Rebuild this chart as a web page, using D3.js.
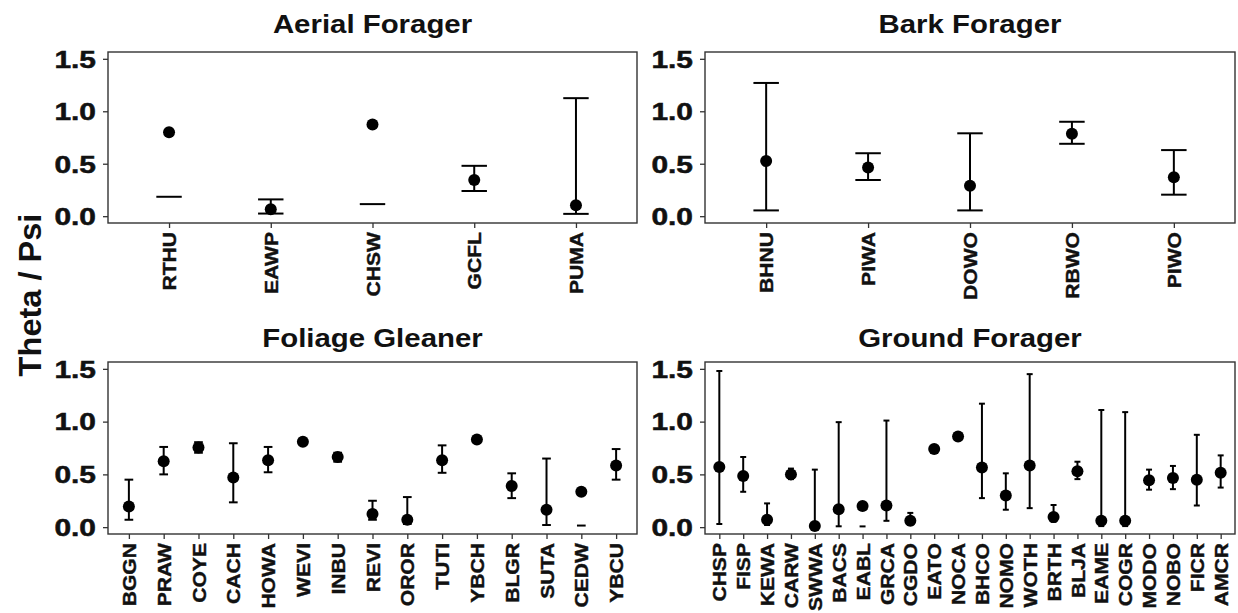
<!DOCTYPE html>
<html>
<head>
<meta charset="utf-8">
<script src="https://cdn.jsdelivr.net/npm/d3@7"></script>
<style>
body { margin: 0; background: #fff; }
svg { display: block; }
text { font-family: 'Liberation Sans', Arial, sans-serif; font-weight: bold; }
</style>
</head>
<body>
<svg id="chart" width="1238" height="613"></svg>
<script>
// ---------------- data ----------------
const aerialSp = ['RTHU', 'EAWP', 'CHSW', 'GCFL', 'PUMA']
const aerialEst = [0.80, 0.065, 0.875, 0.345, 0.105]
const aerialLo = [0.185, 0.025, 0.115, 0.24, 0.022]
const aerialHi = [null, 0.16, null, 0.48, 1.125]

const barkSp = ['BHNU', 'PIWA', 'DOWO', 'RBWO', 'PIWO']
const barkEst = [0.525, 0.465, 0.29, 0.785, 0.37]
const barkLo = [0.055, 0.345, 0.055, 0.69, 0.205]
const barkHi = [1.27, 0.60, 0.79, 0.90, 0.63]

const foliageSp = ['BGGN', 'PRAW', 'COYE', 'CACH', 'HOWA', 'WEVI', 'INBU', 'REVI', 'OROR', 'TUTI', 'YBCH', 'BLGR', 'SUTA', 'CEDW', 'YBCU']
const foliageEst = [0.195, 0.625, 0.755, 0.47, 0.635, 0.81, 0.665, 0.125, 0.07, 0.635, 0.83, 0.39, 0.165, 0.335, 0.585]
const foliageLo = [0.07, 0.50, 0.705, 0.235, 0.52, null, 0.62, 0.07, 0.03, 0.515, null, 0.275, 0.02, 0.015, 0.45]
const foliageHi = [0.45, 0.76, 0.805, 0.795, 0.76, null, 0.705, 0.25, 0.285, 0.775, null, 0.51, 0.65, null, 0.74]

const groundSp = ['CHSP', 'FISP', 'KEWA', 'CARW', 'SWWA', 'BACS', 'EABL', 'GRCA', 'CGDO', 'EATO', 'NOCA', 'BHCO', 'NOMO', 'WOTH', 'BRTH', 'BLJA', 'EAME', 'COGR', 'MODO', 'NOBO', 'FICR', 'AMCR']
const groundEst = [0.57, 0.485, 0.07, 0.50, 0.01, 0.17, 0.20, 0.205, 0.06, 0.74, 0.86, 0.565, 0.30, 0.585, 0.095, 0.53, 0.06, 0.06, 0.445, 0.465, 0.45, 0.515]
const groundLo = [0.03, 0.335, 0.02, 0.455, 0.0, 0.008, 0.007, 0.06, 0.02, null, null, 0.275, 0.165, 0.18, 0.05, 0.455, 0.01, 0.01, 0.355, 0.36, 0.205, 0.375]
const groundHi = [1.48, 0.665, 0.225, 0.555, 0.545, 0.995, null, 1.01, 0.135, null, null, 1.17, 0.51, 1.45, 0.21, 0.62, 1.11, 1.09, 0.545, 0.58, 0.875, 0.68]

const yTicks = [0, 0.5, 1.0, 1.5]
const yLabel = 'Theta / Psi'

// ---------------- layout ----------------
const svg = d3.select('#chart')

const cols = [[108, 637], [705, 1235]]
const rows = [[52, 223], [362, 534]]
const titleGap = [19, 15]

const panels = [
	{title: 'Aerial Forager', sp: aerialSp, est: aerialEst, lo: aerialLo, hi: aerialHi, c: 0, r: 0},
	{title: 'Bark Forager', sp: barkSp, est: barkEst, lo: barkLo, hi: barkHi, c: 1, r: 0},
	{title: 'Foliage Gleaner', sp: foliageSp, est: foliageEst, lo: foliageLo, hi: foliageHi, c: 0, r: 1},
	{title: 'Ground Forager', sp: groundSp, est: groundEst, lo: groundLo, hi: groundHi, c: 1, r: 1}
]

// stretch a text to look like the wide glyphs of the original
function widen(sel, k) {
	sel.each(function() {
		let L = this.getComputedTextLength()
		this.setAttribute('textLength', L * k)
		this.setAttribute('lengthAdjust', 'spacingAndGlyphs')
	})
}

function drawPanel(p) {
	let [x0, x1] = cols[p.c]
	let [y0, y1] = rows[p.r]

	let x = d3.scalePoint().domain(p.sp).range([x0, x1]).padding(0.6)
	let y = d3.scaleLinear().domain([-0.065, 1.565]).range([y1, y0])

	let g = svg.append('g').attr('class', 'panel')

	// title
	let t = g.append('text')
		.attr('x', (x0 + x1) / 2)
		.attr('y', y0 - titleGap[p.r])
		.attr('text-anchor', 'middle')
		.attr('font-size', '26px')
		.attr('fill', '#111')
		.text(p.title)
	widen(t, 1.13)

	// y axis
	let ya = g.append('g')
		.attr('transform', `translate(${x0},0)`)
		.call(d3.axisLeft(y).tickValues(yTicks).tickFormat(d3.format('.1f')).tickSize(5).tickPadding(7))
	ya.select('.domain').remove()
	ya.selectAll('line').attr('stroke', '#333').attr('stroke-width', 1.3)
	ya.selectAll('text')
		.attr('font-size', '23px')
		.attr('fill', '#111')
		.attr('stroke', '#111')
		.attr('stroke-width', 0.5)
		.attr('font-family', null)
		.attr('dy', '0.36em')
	widen(ya.selectAll('text'), 1.3)

	// x axis
	let xa = g.append('g')
		.attr('transform', `translate(0,${y1})`)
		.call(d3.axisBottom(x).tickSize(5))
	xa.select('.domain').remove()
	xa.selectAll('line').attr('stroke', '#333').attr('stroke-width', 1.3)
	xa.selectAll('text')
		.attr('font-size', '18.5px')
		.attr('fill', '#111')
		.attr('stroke', '#111')
		.attr('stroke-width', 0.4)
		.attr('font-family', null)
		.attr('transform', 'rotate(-90)')
		.attr('text-anchor', 'end')
		.attr('x', -9)
		.attr('y', 0)
		.attr('dy', '0.36em')
	widen(xa.selectAll('text'), 1.14)

	// error bars
	let capW = x.step() * 0.25
	let rowsData = p.sp.map((s, i) => ({sp: s, est: p.est[i], lo: p.lo[i], hi: p.hi[i]}))

	let eb = g.append('g').attr('class', 'errbars')
		.attr('stroke', '#000').attr('stroke-width', 2)

	eb.selectAll('line.v')
		.data(rowsData.filter(d => d.lo != null && d.hi != null))
		.enter().append('line')
		.attr('class', 'v')
		.attr('x1', d => x(d.sp)).attr('x2', d => x(d.sp))
		.attr('y1', d => y(d.lo)).attr('y2', d => y(d.hi))

	let caps = []
	rowsData.forEach(d => {
		if (d.lo != null) caps.push({sp: d.sp, v: d.lo})
		if (d.hi != null) caps.push({sp: d.sp, v: d.hi})
	})
	eb.selectAll('line.cap')
		.data(caps)
		.enter().append('line')
		.attr('class', 'cap')
		.attr('x1', d => x(d.sp) - capW / 2).attr('x2', d => x(d.sp) + capW / 2)
		.attr('y1', d => y(d.v)).attr('y2', d => y(d.v))

	// points
	g.append('g').selectAll('circle')
		.data(rowsData)
		.enter().append('circle')
		.attr('cx', d => x(d.sp))
		.attr('cy', d => y(d.est))
		.attr('r', 6)
		.attr('fill', '#000')

	// border
	g.append('rect')
		.attr('x', x0).attr('y', y0)
		.attr('width', x1 - x0).attr('height', y1 - y0)
		.attr('fill', 'none')
		.attr('stroke', '#333')
		.attr('stroke-width', 1.4)
}

panels.forEach(drawPanel)

// shared y title
let yt = svg.append('text')
	.attr('transform', 'translate(41,295) rotate(-90)')
	.attr('text-anchor', 'middle')
	.attr('font-size', '31px')
	.attr('fill', '#111')
	.text(yLabel)
widen(yt, 1.05)
</script>
</body>
</html>
